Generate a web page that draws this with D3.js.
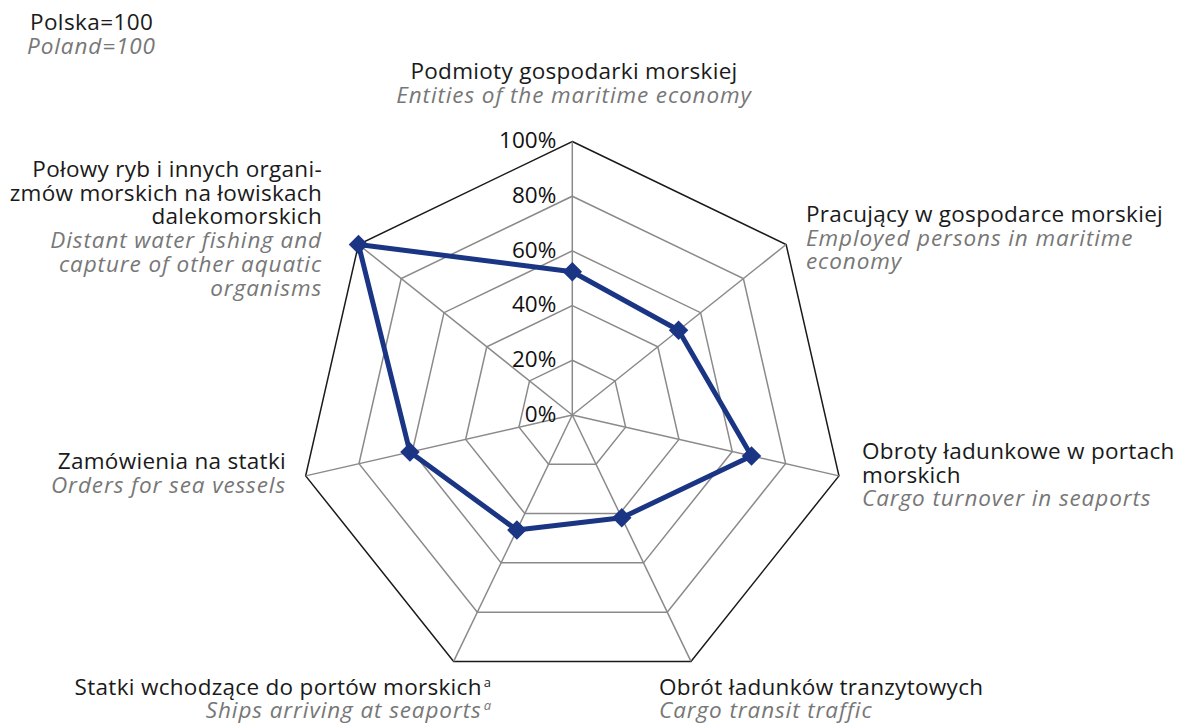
<!DOCTYPE html>
<html>
<head>
<meta charset="utf-8">
<script src="https://cdn.jsdelivr.net/npm/d3@7"></script>
<style>
  body { margin: 0; background: #fff; }
  text { font-family: "Open Sans", "Noto Sans", sans-serif; }
</style>
</head>
<body>
<svg id="chart" width="1179" height="724"></svg>
<script>
// Categories (clockwise from top)
var categoriesPl = [
  ["Podmioty gospodarki morskiej"],
  ["Pracujący w gospodarce morskiej"],
  ["Obroty ładunkowe w portach", "morskich"],
  ["Obrót ładunków tranzytowych"],
  ["Statki wchodzące do portów morskich"],
  ["Zamówienia na statki"],
  ["Połowy ryb i innych organi-", "zmów morskich na łowiskach", "dalekomorskich"]
];
var categoriesEn = [
  ["Entities of the maritime economy"],
  ["Employed persons in maritime", "economy"],
  ["Cargo turnover in seaports"],
  ["Cargo transit traffic"],
  ["Ships arriving at seaports"],
  ["Orders for sea vessels"],
  ["Distant water fishing and", "capture of other aquatic", "organisms"]
];
var footnotes = [null, null, null, null, "a", null, null];

// Series values (% of Poland)
var values = [52.4, 49.7, 67.2, 41.7, 46.7, 60.9, 100];

// Tick labels
var ticks = [0, 20, 40, 60, 80, 100];

var cx = 572.3, cy = 415, R = 273.5;
var n = values.length;
var lineH = 23.7;
var fs = "22.5px";

var svg = d3.select("#chart");
var r = d3.scaleLinear().domain([0, 100]).range([0, R]);
var angle = function(i) { return i * 2 * Math.PI / n; };

var g = svg.append("g").attr("transform", "translate(" + cx + "," + cy + ")");

// Grid rings
var ring = d3.lineRadial()
  .angle(function(d, i) { return angle(i); })
  .radius(function(d) { return r(d); })
  .curve(d3.curveLinearClosed);

ticks.filter(function(t) { return t > 0; }).forEach(function(t) {
  g.append("path")
    .attr("d", ring(d3.range(n).map(function() { return t; })))
    .style("fill", "none")
    .style("stroke", t === 100 ? "#1a1a1a" : "#8a8a8a")
    .style("stroke-width", 1.5);
});

// Spokes
g.selectAll("line.spoke")
  .data(d3.range(n))
  .enter().append("line")
  .attr("class", "spoke")
  .attr("x1", 0).attr("y1", 0)
  .attr("x2", function(i) { return r(100) * Math.sin(angle(i)); })
  .attr("y2", function(i) { return -r(100) * Math.cos(angle(i)); })
  .style("stroke", "#8a8a8a")
  .style("stroke-width", 1.5);

// Tick labels
g.selectAll("text.tick")
  .data(ticks)
  .enter().append("text")
  .attr("class", "tick")
  .attr("x", -16)
  .attr("y", function(d) { return -r(d); })
  .attr("dy", "0.3em")
  .style("text-anchor", "end")
  .style("font-size", fs)
  .style("fill", "#111")
  .text(function(d) { return d + "%"; });

// Data line
g.append("path")
  .attr("d", ring(values))
  .style("fill", "none")
  .style("stroke", "#1b3585")
  .style("stroke-width", 5)
  .style("stroke-linejoin", "round");

// Markers
g.selectAll("path.marker")
  .data(values)
  .enter().append("path")
  .attr("class", "marker")
  .attr("d", d3.symbol().type(d3.symbolSquare).size(190))
  .attr("transform", function(d, i) {
    var x = r(d) * Math.sin(angle(i)), y = -r(d) * Math.cos(angle(i));
    return "translate(" + x + "," + y + ") rotate(45)";
  })
  .style("fill", "#1b3585");

// Category label placement: [x, first baseline, anchor]
var labelPos = [
  [574, 79, "middle"],
  [806, 222, "start"],
  [862, 459, "start"],
  [659, 694.5, "start"],
  [491, 694.5, "end"],
  [286, 469, "end"],
  [322, 177, "end"]
];

var labels = svg.append("g").attr("class", "labels");
categoriesPl.forEach(function(pl, i) {
  var p = labelPos[i];
  var t = labels.append("text")
    .attr("x", p[0]).attr("y", p[1])
    .style("text-anchor", p[2])
    .style("font-size", fs);
  var k = 0;
  pl.forEach(function(line) {
    t.append("tspan").attr("x", p[0]).attr("y", p[1] + k * lineH)
      .style("fill", "#1a1a1a").style("letter-spacing", "0.3px").text(line);
    k++;
  });
  categoriesEn[i].forEach(function(line) {
    t.append("tspan").attr("x", p[0]).attr("y", p[1] + k * lineH)
      .style("fill", "#777").style("font-style", "italic")
      .style("letter-spacing", "0.9px").text(line);
    k++;
  });
  if (footnotes[i]) {
    // superscript markers after first PL and EN lines
    var nodes = t.selectAll("tspan").nodes();
    [0, pl.length].forEach(function(j) {
      d3.select(nodes[j]).append("tspan")
        .attr("dx", 2)
        .attr("dy", -8)
        .style("font-size", "13px")
        .style("letter-spacing", "0px")
        .text(footnotes[i]);
    });
  }
});

// Unit note
var unit = svg.append("text").style("font-size", fs);
unit.append("tspan").attr("x", 30).attr("y", 30).style("fill", "#1a1a1a")
  .style("letter-spacing", "0.4px").text("Polska=100");
unit.append("tspan").attr("x", 27).attr("y", 54).style("fill", "#777").style("font-style", "italic")
  .style("letter-spacing", "0.9px").text("Poland=100");
</script>
</body>
</html>
